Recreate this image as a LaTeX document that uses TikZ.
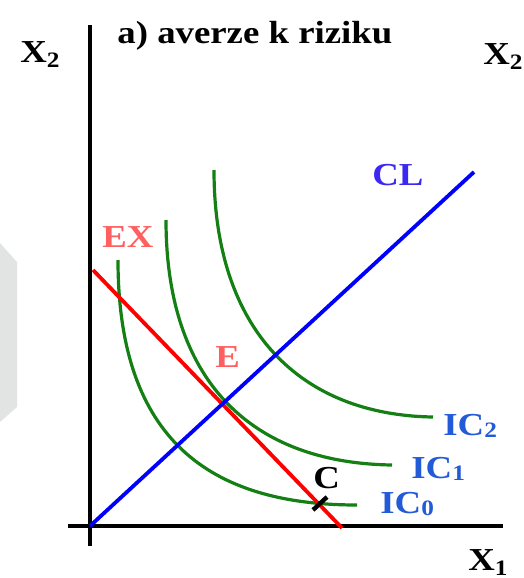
\documentclass[tikz,border=0pt]{standalone}
\usepackage{fontspec}
\usepackage{xcolor}
\setmainfont{Liberation Serif}[FakeStretch=1.15]
\definecolor{curvegreen}{RGB}{20,128,20}
\definecolor{labelblue}{RGB}{35,90,215}
\definecolor{clblue}{RGB}{60,40,240}
\definecolor{exred}{RGB}{255,95,95}
\definecolor{shadegray}{RGB}{226,228,228}
\newcommand{\sublbl}[3][-2.5pt]{#2\raisebox{#1}{\fontsize{11}{13}\selectfont #3}}

\begin{document}
\begin{tikzpicture}[x=0.5pt,y=-0.5pt,
    axis/.style={line width=1.9pt,black},
    certline/.style={line width=1.9pt,blue},
    budget/.style={line width=1.9pt,red},
    indiff/.style={line width=1.6pt,curvegreen},
    lab/.style={inner sep=0pt,anchor=base west,font=\fontsize{16}{19}\selectfont\bfseries}]
  \useasboundingbox (0,0) rectangle (524,578);
  \fill[shadegray] (0,243) -- (17,262) -- (17,407) -- (0,422) -- cycle;
  \coordinate (ytop) at (90,25);
  \coordinate (ybot) at (90,546);
  \coordinate (xleft) at (68,526);
  \coordinate (xright) at (503,526);
  \coordinate (orig) at (90,526);
  \coordinate (clend) at (474,172);
  \coordinate (exstart) at (93,270);
  \coordinate (exend) at (342,528);
  \coordinate (ic0s) at (118,260);
  \coordinate (ic0e) at (357,505);
  \coordinate (ic1s) at (166,220);
  \coordinate (ic1e) at (392,465);
  \coordinate (ic2s) at (214,170);
  \coordinate (ic2e) at (433,417);
  \coordinate (ca) at (313,510);
  \coordinate (cb) at (327,497);
  \draw[axis] (ytop) -- (ybot);
  \draw[axis] (xleft) -- (xright);
  \draw[indiff] (ic0s) .. controls (118,440) and (210,505) .. (ic0e);
  \draw[indiff] (ic1s) .. controls (166,380) and (250,463) .. (ic1e);
  \draw[indiff] (ic2s) .. controls (214,330) and (300,415) .. (ic2e);
  \draw[budget] (exstart) -- (exend);
  \draw[certline] (orig) -- (clend);
  \draw[line width=2.2pt,black] (ca) -- (cb);
  \node[lab] (title) at (117,43) {a) averze k riziku};
  \node[lab] (x2l) at (20,62) {\sublbl{X}{2}};
  \node[lab] (x2r) at (483,64) {\sublbl{X}{2}};
  \node[lab] (x1) at (468,570) {\sublbl{X}{1}};
  \node[lab,clblue] (cl) at (372,185) {CL};
  \node[lab,exred] (ex) at (102,247) {EX};
  \node[lab,exred] (e) at (215,367) {E};
  \node[lab] (c) at (313,488) {C};
  \node[lab,labelblue] (ic2) at (443,435) {\sublbl[-1pt]{IC}{2}};
  \node[lab,labelblue] (ic1) at (411,478) {\sublbl[-1pt]{IC}{1}};
  \node[lab,labelblue] (ic0) at (380,513) {\sublbl[-1pt]{IC}{0}};
\end{tikzpicture}
\end{document}
